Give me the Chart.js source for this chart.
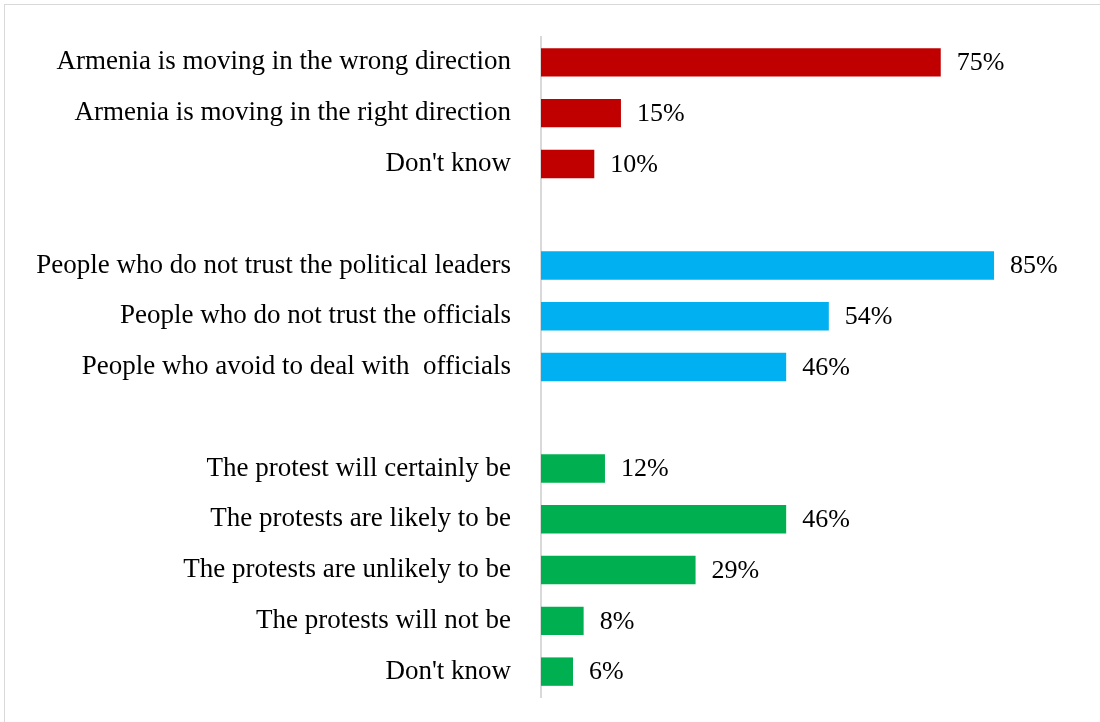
<!DOCTYPE html>
<html>
<head>
<meta charset="utf-8">
<script src="https://cdn.jsdelivr.net/npm/chart.js@4"></script>
<style>
  body { margin: 0; background: #fff; overflow: hidden; }
  #frame {
    position: absolute; left: 4px; top: 4px;
    width: 1100px; height: 717px;
    border: 1px solid #d9d9d9;
  }
</style>
</head>
<body>
<div id="frame"><canvas id="chart" width="1100" height="717"></canvas></div>
<script>
// Blank entries leave a gap between the three question groups
const categories = [
  "Armenia is moving in the wrong direction",
  "Armenia is moving in the right direction",
  "Don't know",
  "",
  "People who do not trust the political leaders",
  "People who do not trust the officials",
  "People who avoid to deal with  officials",
  "",
  "The protest will certainly be",
  "The protests are likely to be",
  "The protests are unlikely to be",
  "The protests will not be",
  "Don't know"
];
const values = [75, 15, 10, null, 85, 54, 46, null, 12, 46, 29, 8, 6];
const groupColors = ["#C00000", "#C00000", "#C00000", null,
  "#00B0F0", "#00B0F0", "#00B0F0", null,
  "#00B050", "#00B050", "#00B050", "#00B050", "#00B050"];

const FONT = "'Liberation Serif', 'DejaVu Serif', serif";

// percentage labels at the end of each bar
const valueLabels = {
  id: "valueLabels",
  afterDatasetsDraw(chart) {
    const ctx = chart.ctx;
    const meta = chart.getDatasetMeta(0);
    ctx.save();
    ctx.font = "26px " + FONT;
    ctx.fillStyle = "#000";
    ctx.textAlign = "left";
    ctx.textBaseline = "middle";
    meta.data.forEach((bar, i) => {
      if (values[i] == null) return;
      ctx.fillText(values[i] + "%", bar.x + 16, bar.y + 1);
    });
    ctx.restore();
  }
};

new Chart(document.getElementById("chart"), {
  type: "bar",
  data: {
    labels: categories,
    datasets: [{
      data: values,
      backgroundColor: groupColors,
      barPercentage: 0.56,
      categoryPercentage: 1
    }]
  },
  options: {
    indexAxis: "y",
    responsive: false,
    animation: false,
    layout: { padding: { top: 32, bottom: 25, right: 31, left: 0 } },
    plugins: { legend: { display: false }, tooltip: { enabled: false } },
    scales: {
      x: { display: false, min: 0, max: 100 },
      y: {
        grid: { display: false },
        border: { display: true, color: "#d9d9d9", width: 2 },
        ticks: {
          color: "#000",
          font: { family: FONT, size: 27 },
          padding: 22,
          autoSkip: false
        },
        afterFit(scale) {
          scale.width = 536;
          scale.paddingTop = 0;
          scale.paddingBottom = 0;
        }
      }
    }
  },
  plugins: [valueLabels]
});
</script>
</body>
</html>
